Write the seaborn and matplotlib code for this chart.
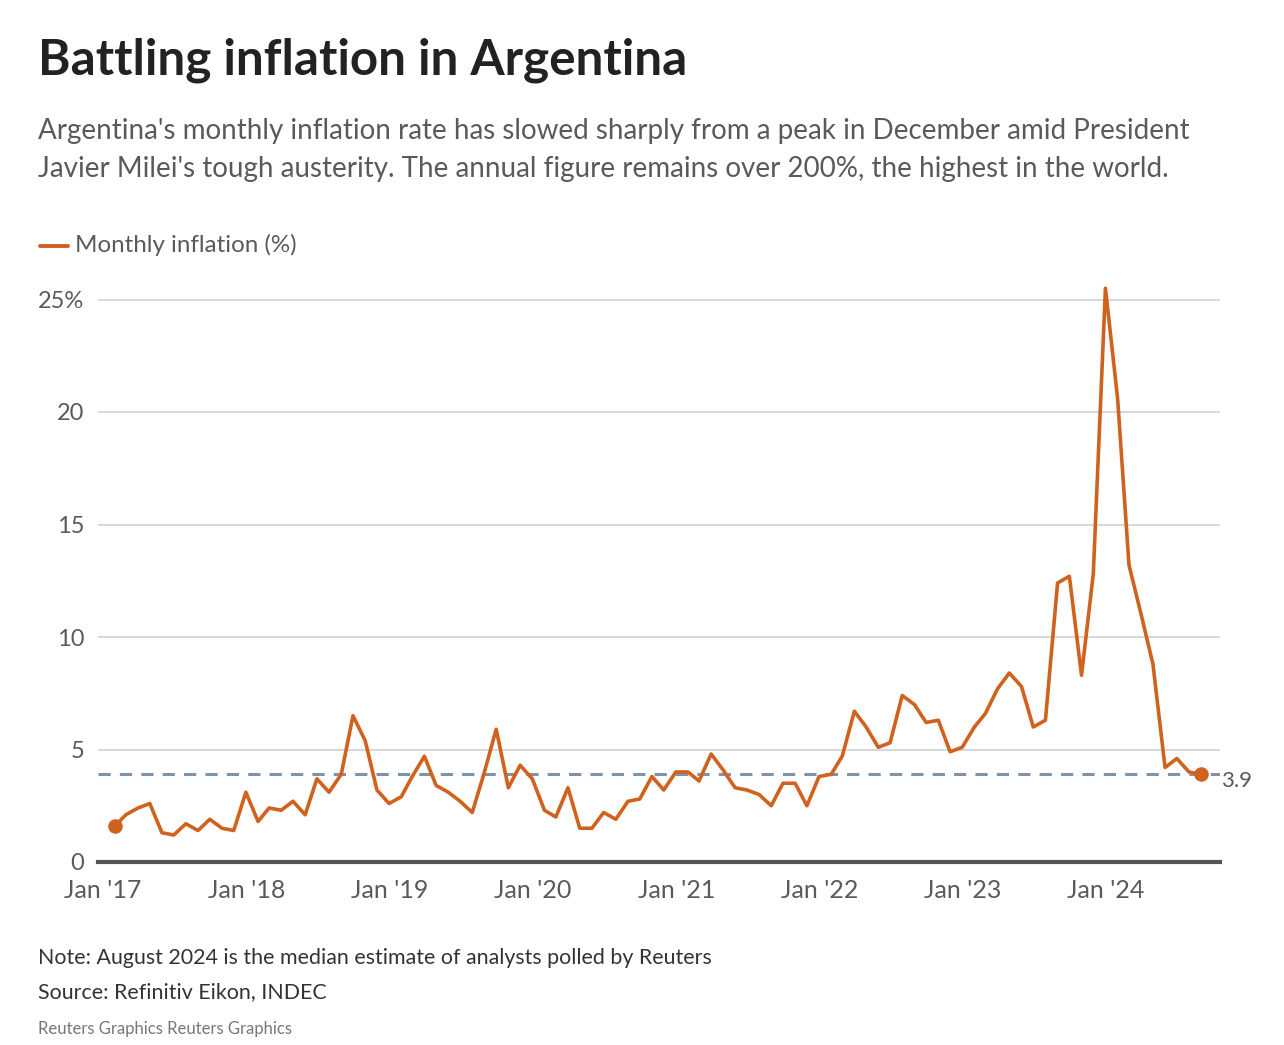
import pandas as pd
import matplotlib.pyplot as plt
from matplotlib.lines import Line2D
import seaborn as sns

# monthly inflation (%), Jan 2017 - Aug 2024 (Aug 2024 = analysts' median estimate)
values_2017 = [1.6, 2.1, 2.4, 2.6, 1.3, 1.2, 1.7, 1.4, 1.9, 1.5, 1.4, 3.1]
values_2018 = [1.8, 2.4, 2.3, 2.7, 2.1, 3.7, 3.1, 3.9, 6.5, 5.4, 3.2, 2.6]
values_2019 = [2.9, 3.8, 4.7, 3.4, 3.1, 2.7, 2.2, 4.0, 5.9, 3.3, 4.3, 3.7]
values_2020 = [2.3, 2.0, 3.3, 1.5, 1.5, 2.2, 1.9, 2.7, 2.8, 3.8, 3.2, 4.0]
values_2021 = [4.0, 3.6, 4.8, 4.1, 3.3, 3.2, 3.0, 2.5, 3.5, 3.5, 2.5, 3.8]
values_2022 = [3.9, 4.7, 6.7, 6.0, 5.1, 5.3, 7.4, 7.0, 6.2, 6.3, 4.9, 5.1]
values_2023 = [6.0, 6.6, 7.7, 8.4, 7.8, 6.0, 6.3, 12.4, 12.7, 8.3, 12.8, 25.5]
values_2024 = [20.6, 13.2, 11.0, 8.8, 4.2, 4.6, 4.0, 3.9]

inflation = (values_2017 + values_2018 + values_2019 + values_2020
             + values_2021 + values_2022 + values_2023 + values_2024)
months = pd.date_range("2017-01-31", periods=len(inflation), freq="ME")
latest = inflation[-1]

y_ticks = [0, 5, 10, 15, 20, 25]
y_labels = ["0", "5", "10", "15", "20", "25%"]
x_years = [2017, 2018, 2019, 2020, 2021, 2022, 2023, 2024]
x_labels = ["Jan '17", "Jan '18", "Jan '19", "Jan '20", "Jan '21", "Jan '22", "Jan '23", "Jan '24"]

df = pd.DataFrame({"month": months, "inflation": inflation})

ORANGE = "#d0621f"
GREY = "#5a5a5a"
DASH = "#7d92ad"

sns.set_theme(style="white")
plt.rcParams["font.family"] = ["Lato", "DejaVu Sans"]

W, H = 1284, 1045
fig = plt.figure(figsize=(W / 100, H / 100), dpi=100)
ax = fig.add_axes([98 / W, 1 - 862 / H, (1220 - 98) / W, (862 - 277) / H])

for t in y_ticks[1:]:
    ax.axhline(t, color="#d4d4d4", lw=1.3, zorder=0)
ax.axhline(latest, color=DASH, lw=2.2, ls=(0, (4, 3)), zorder=1)

sns.lineplot(data=df, x="month", y="inflation", color=ORANGE, lw=2.6, ax=ax, zorder=3)
ends = df.iloc[[0, -1]]
ax.scatter(ends["month"], ends["inflation"], s=110, color=ORANGE, zorder=4, linewidths=0)

ax.set_xlim(pd.Timestamp("2016-12-19"), pd.Timestamp("2024-10-18"))
ax.set_ylim(0, 26)
ax.set_yticks(y_ticks)
ax.set_yticklabels(y_labels)
ax.set_xticks([pd.Timestamp(f"{y}-01-01") for y in x_years])
ax.set_xticklabels(x_labels)
ax.tick_params(axis="both", length=0, labelcolor=GREY)
ax.tick_params(axis="y", pad=10, labelsize=17)
ax.tick_params(axis="x", pad=12, labelsize=18)
ax.set_xlabel("")
ax.set_ylabel("")
for side in ["top", "right", "left"]:
    ax.spines[side].set_visible(False)
ax.spines["bottom"].set_color("#555555")
ax.spines["bottom"].set_linewidth(3)

ax.annotate(f"{latest}", xy=(1.0, latest), xycoords=("axes fraction", "data"),
            xytext=(1, -5), textcoords="offset points", va="center", ha="left",
            fontsize=16, color=GREY)

# header
fig.text(38 / W, 1 - 60 / H, "Battling inflation in Argentina", fontsize=35.6,
         fontweight="bold", color="#222222", va="center", ha="left")
fig.text(38 / W, 1 - 131 / H,
         "Argentina's monthly inflation rate has slowed sharply from a peak in December amid President",
         fontsize=20, color=GREY, va="center", ha="left")
fig.text(38 / W, 1 - 169 / H,
         "Javier Milei's tough austerity. The annual figure remains over 200%, the highest in the world.",
         fontsize=20, color=GREY, va="center", ha="left")

# legend
fig.add_artist(Line2D([40 / W, 68 / W], [1 - 246 / H, 1 - 246 / H], color=ORANGE, lw=2.8))
fig.text(75 / W, 1 - 245 / H, "Monthly inflation (%)", fontsize=17.4, color=GREY,
         va="center", ha="left")

# footer
fig.text(38 / W, 1 - 958 / H, "Note: August 2024 is the median estimate of analysts polled by Reuters",
         fontsize=15.4, color="#333333", va="center", ha="left")
fig.text(38 / W, 1 - 992 / H, "Source: Refinitiv Eikon, INDEC",
         fontsize=15.4, color="#333333", va="center", ha="left")
fig.text(38 / W, 1 - 1029 / H, "Reuters Graphics Reuters Graphics",
         fontsize=12, color="#777777", va="center", ha="left")

fig.savefig("out.png", dpi=100, facecolor="white")
